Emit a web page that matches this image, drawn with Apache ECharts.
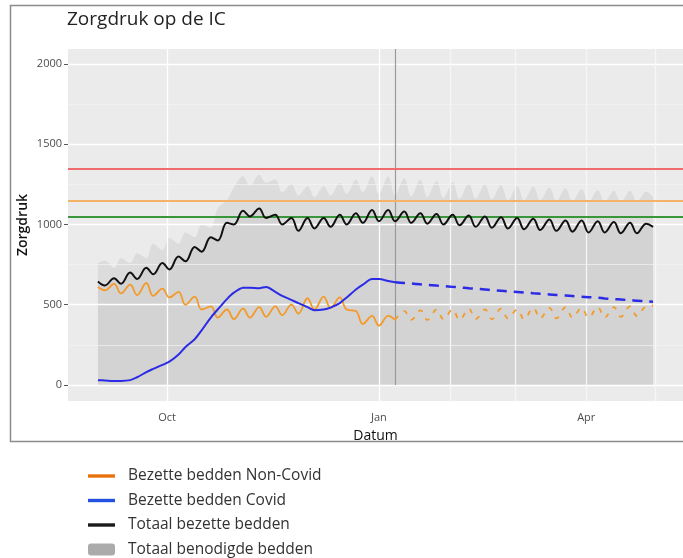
<!DOCTYPE html>
<html>
<head>
<meta charset="utf-8">
<script src="https://cdn.jsdelivr.net/npm/echarts@6/dist/echarts.min.js"></script>
<style>
  html, body { margin: 0; padding: 0; background: #fff; }
  #main { width: 683px; height: 558px; }
</style>
</head>
<body>
<div id="main"></div>
<script>
// dates (every 3/4 days, Sep 2020 - Apr 2021)
var dates = [
  '2020-09-01','2020-09-04','2020-09-08','2020-09-11','2020-09-15','2020-09-18','2020-09-22','2020-09-25','2020-09-29','2020-10-02',
  '2020-10-06','2020-10-09','2020-10-13','2020-10-16','2020-10-20','2020-10-23','2020-10-27','2020-10-30','2020-11-03','2020-11-06',
  '2020-11-10','2020-11-13','2020-11-17','2020-11-20','2020-11-24','2020-11-27','2020-12-01','2020-12-04','2020-12-08','2020-12-11',
  '2020-12-15','2020-12-18','2020-12-22','2020-12-25','2020-12-29','2021-01-01','2021-01-05','2021-01-08','2021-01-12','2021-01-15',
  '2021-01-19','2021-01-22','2021-01-26','2021-01-29','2021-02-02','2021-02-05','2021-02-09','2021-02-12','2021-02-16','2021-02-19',
  '2021-02-23','2021-02-26','2021-03-02','2021-03-05','2021-03-09','2021-03-12','2021-03-16','2021-03-19','2021-03-23','2021-03-26',
  '2021-03-30','2021-04-02','2021-04-06','2021-04-09','2021-04-13','2021-04-16','2021-04-20','2021-04-23','2021-04-27','2021-04-30'
];

// Totaal benodigde bedden
var needed = [760,775,730,790,760,820,790,880,840,915,880,950,920,1000,980,1100,1150,1230,1300,1240,
  1310,1260,1280,1200,1250,1180,1240,1170,1240,1180,1260,1190,1280,1200,1300,1190,1300,1180,1290,1175,
  1280,1170,1270,1165,1265,1160,1255,1160,1250,1155,1245,1150,1240,1150,1235,1150,1230,1145,1225,1145,
  1220,1140,1215,1140,1210,1140,1210,1140,1205,1170];

// Totaal bezette bedden
var total = [645,620,665,630,700,660,730,690,760,720,800,770,860,830,920,900,1010,1000,1085,1050,
  1100,1040,1060,1000,1040,960,1040,975,1040,985,1060,1000,1070,1010,1090,1020,1090,1020,1080,1010,
  1070,1005,1065,1000,1060,995,1055,985,1050,980,1045,975,1040,970,1035,965,1030,960,1025,955,
  1025,950,1020,950,1015,945,1010,945,1005,985];

// Bezette bedden Non-Covid (gemeten t/m 8 jan, daarna prognose)
var nonCovid = [610,590,630,570,625,560,635,555,600,545,580,500,550,470,490,420,470,410,475,420,
  485,425,490,435,500,445,540,470,550,480,545,470,460,380,430,370,430,405];
var nonCovidProj = [405,460,405,465,405,470,410,470,405,475,410,470,410,475,415,470,410,480,415,480,
  415,485,420,480,420,485,420,485,425,490,430,490,495];

// Bezette bedden Covid
var covid = [30,28,25,25,30,48,80,100,125,145,190,237,285,340,420,470,535,575,605,606,
  603,610,580,555,530,510,485,465,470,482,510,545,595,625,660,660,648,640];
var covidProj = [640,635,632,627,624,619,616,611,608,603,600,595,591,587,583,579,576,571,568,564,
  561,557,554,550,547,543,539,535,532,528,525,521,518];

var limits = [1350, 1150, 1050];
var limitColors = ['#F06B6D', '#F4B368', '#3A963A'];
var yTicks = [0, 500, 1000, 1500, 2000];
var yMinor = [250, 750, 1250, 1750];
var xTicks = ['2020-10-01', '2021-01-01', '2021-04-01'];
var xGridUnder = ['2020-10-01', '2021-01-01'];
var xGridOver = ['2021-02-01', '2021-03-01', '2021-04-01', '2021-05-01'];
var cutoff = '2021-01-08';
var xRange = ['2020-08-19', '2021-05-13'];
var months = ['Jan','Feb','Mar','Apr','May','Jun','Jul','Aug','Sep','Oct','Nov','Dec'];

function ts(s) {
  var p = s.split('-');
  return new Date(+p[0], +p[1] - 1, +p[2]).getTime();
}

var splitAt = nonCovid.length - 1;
function pairs(vals, offset) {
  return vals.map(function (v, i) { return [ts(dates[i + offset]), v]; });
}

var font = 'Open Sans';
var linePath = 'path://M0,0H27V3.4H0Z';

var chart = echarts.init(document.getElementById('main'), null, { renderer: 'canvas' });

var option = {
  animation: false,
  backgroundColor: '#fff',
  title: {
    text: 'Zorgdruk op de IC',
    left: 62, top: 5,
    textStyle: { fontFamily: font, fontSize: 19, fontWeight: 'normal', color: '#222' }
  },
  graphic: [{
    type: 'rect', z: -1, silent: true,
    shape: { x: 10.5, y: 5.5, width: 720, height: 436 },
    style: { fill: 'none', stroke: '#8c8c8c', lineWidth: 1.5 }
  }],
  legend: {
    orient: 'vertical', left: 83, top: 463, height: 110,
    itemWidth: 27, itemHeight: 12, itemGap: 8.5,
    selectedMode: false,
    textStyle: { fontFamily: font, fontSize: 15.5, color: '#333', padding: [0, 0, 0, 8] },
    data: [
      { name: 'Bezette bedden Non-Covid', icon: linePath, itemStyle: { color: '#E8730E', borderWidth: 0 } },
      { name: 'Bezette bedden Covid', icon: linePath, itemStyle: { color: '#2350E0', borderWidth: 0 } },
      { name: 'Totaal bezette bedden', icon: linePath, itemStyle: { color: '#1a1a1a', borderWidth: 0 } },
      { name: 'Totaal benodigde bedden', icon: 'roundRect', itemStyle: { color: '#ABABAB', borderWidth: 0 } }
    ]
  },
  grid: {
    left: 68, right: 0, top: 49, bottom: 157,
    show: true, backgroundColor: '#EBEBEB', borderWidth: 0
  },
  xAxis: {
    type: 'value',
    min: ts(xRange[0]),
    max: ts(xRange[1]),
    splitLine: { show: false },
    axisLine: { show: false },
    axisTick: { show: true, customValues: xTicks.map(ts), length: 4, lineStyle: { color: '#555' } },
    axisLabel: {
      customValues: xTicks.map(ts), margin: 11, color: '#4d4d4d', fontFamily: font, fontSize: 11,
      formatter: function (v) { return months[new Date(v).getMonth()]; }
    },
    name: 'Datum', nameLocation: 'middle', nameGap: 28,
    nameTextStyle: { fontFamily: font, fontSize: 14, color: '#111' }
  },
  yAxis: {
    type: 'value', min: -100, max: 2093,
    splitLine: { show: false },
    axisLine: { show: false },
    axisTick: { show: true, customValues: yTicks, length: 4, lineStyle: { color: '#555' } },
    axisLabel: {
      customValues: yTicks, margin: 6, color: '#4d4d4d', fontFamily: font, fontSize: 11,
      formatter: function (v) { return String(v); }
    },
    name: 'Zorgdruk', nameLocation: 'middle', nameGap: 38, nameMoveOverlap: false,
    nameTextStyle: { fontFamily: font, fontSize: 14, fontWeight: 600, color: '#111' }
  },
  series: [
    {
      name: 'gridUnder', type: 'line', data: [], z: 1, silent: true,
      markLine: {
        silent: true, symbol: 'none', label: { show: false }, animation: false,
        data: yTicks.map(function (v) { return { yAxis: v, lineStyle: { color: '#fff', width: 1.3, type: 'solid' } }; })
          .concat(yMinor.map(function (v) { return { yAxis: v, lineStyle: { color: '#F4F4F4', width: 0.7, type: 'solid' } }; }))
          .concat(xGridUnder.map(function (v) { return { xAxis: ts(v), lineStyle: { color: '#fff', width: 1.3, type: 'solid' } }; }))
      }
    },
    {
      name: 'Totaal benodigde bedden', type: 'line', z: 2,
      data: pairs(needed, 0), smooth: 0.35, showSymbol: false, symbol: 'none',
      lineStyle: { width: 0 }, itemStyle: { color: '#ABABAB' },
      areaStyle: { color: '#DCDCDC', opacity: 1 }
    },
    {
      name: 'totalArea', type: 'line', z: 3,
      data: pairs(total, 0), smooth: 0.4, showSymbol: false, symbol: 'none',
      lineStyle: { width: 0 },
      areaStyle: { color: '#D3D3D3', opacity: 1 }
    },
    {
      name: 'gridOver', type: 'line', data: [], z: 4, silent: true,
      markLine: {
        silent: true, symbol: 'none', label: { show: false }, animation: false,
        data: xGridOver.map(function (v) { return { xAxis: ts(v), lineStyle: { color: '#F6F6F6', width: 1.3, type: 'solid' } }; })
          .concat([[
            { coord: [ts(cutoff), 0], lineStyle: { color: '#9a9a9a', width: 1.2, type: 'solid' } },
            { coord: [ts(cutoff), 2093] }
          ]])
      }
    },
    {
      name: 'limits', type: 'line', data: [], z: 5, silent: true,
      markLine: {
        silent: true, symbol: 'none', label: { show: false }, animation: false,
        data: limits.map(function (v, i) { return { yAxis: v, lineStyle: { color: limitColors[i], width: 2, type: 'solid' } }; })
      }
    },
    {
      name: 'Bezette bedden Non-Covid', type: 'line', z: 6,
      data: pairs(nonCovid, 0), smooth: 0.4, showSymbol: false, symbol: 'none',
      lineStyle: { color: '#F39A2B', width: 1.8 }, itemStyle: { color: '#E8730E' }
    },
    {
      name: 'nonCovidProj', type: 'line', z: 6,
      data: pairs(nonCovidProj, splitAt), smooth: 0.4, showSymbol: false, symbol: 'none',
      lineStyle: { color: '#F39A2B', width: 1.8, type: [5, 7] }
    },
    {
      name: 'Bezette bedden Covid', type: 'line', z: 7,
      data: pairs(covid, 0), smooth: 0.3, showSymbol: false, symbol: 'none',
      lineStyle: { color: '#2B2BE6', width: 2 }, itemStyle: { color: '#2350E0' }
    },
    {
      name: 'covidProj', type: 'line', z: 7,
      data: pairs(covidProj, splitAt), smooth: 0.3, showSymbol: false, symbol: 'none',
      lineStyle: { color: '#2B2BE6', width: 2.5, type: [10, 7] }
    },
    {
      name: 'Totaal bezette bedden', type: 'line', z: 8,
      data: pairs(total, 0), smooth: 0.4, showSymbol: false, symbol: 'none',
      lineStyle: { color: '#111', width: 2 }, itemStyle: { color: '#1a1a1a' }
    }
  ]
};

chart.setOption(option);
</script>
</body>
</html>
